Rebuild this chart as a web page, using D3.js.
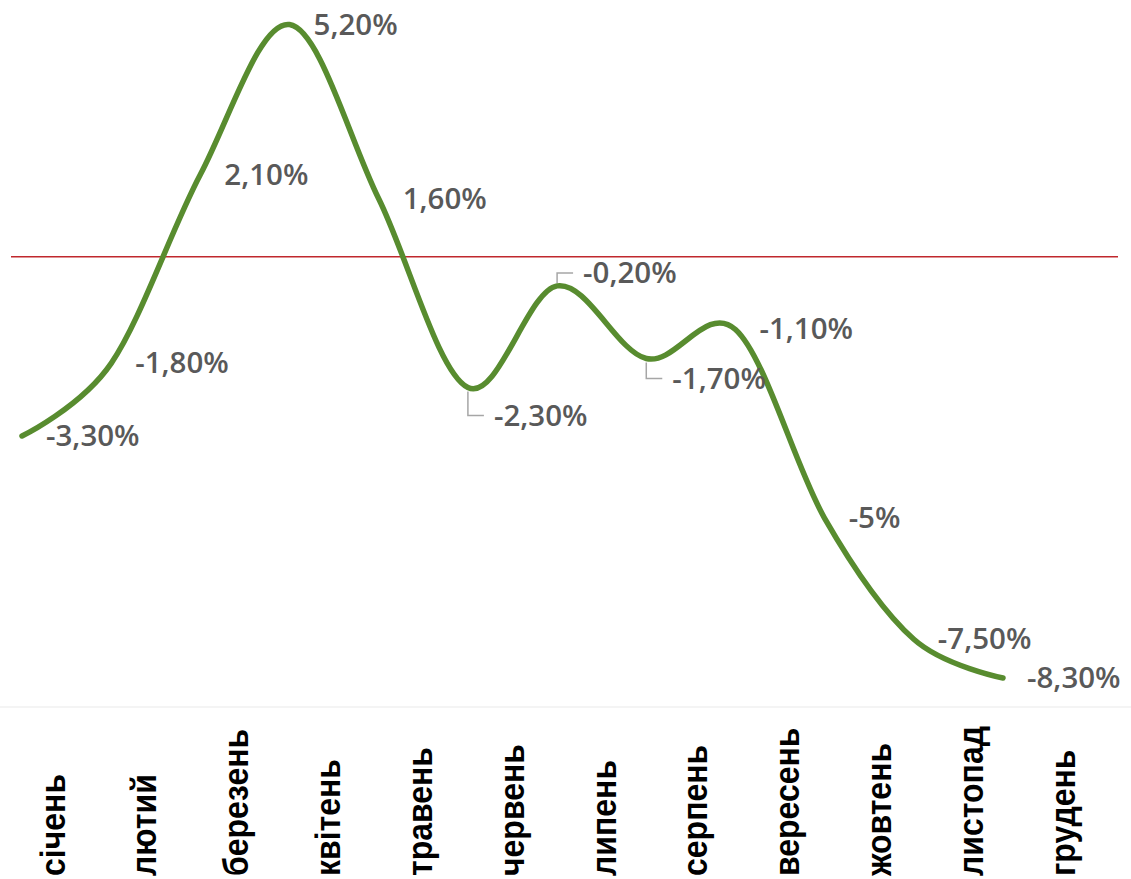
<!DOCTYPE html>
<html>
<head>
<meta charset="utf-8">
<script src="https://cdn.jsdelivr.net/npm/d3@7"></script>
<style>
  html, body { margin: 0; padding: 0; background: #fff; }
  svg { display: block; }
</style>
</head>
<body>
<svg width="1131" height="879"></svg>
<script>
// months and values (%)
var months = ["січень", "лютий", "березень", "квітень", "травень", "червень",
              "липень", "серпень", "вересень", "жовтень", "листопад", "грудень"];
var values = [-3.3, -1.8, 2.1, 5.2, 1.6, -2.3, -0.2, -1.7, -1.1, -5, -7.5, -8.3];
var refValue = 0.4;

var svg = d3.select("svg");
var width = 1131, height = 879;

var x = d3.scalePoint().domain(months).range([22, 1003]);
var xLabel = d3.scalePoint().domain(months).range([52, 1062]);
var y = d3.scaleLinear().domain([-8.3, 5.2]).range([678, 24.5]);

// faint separator above the month names
svg.append("line")
  .attr("x1", 0).attr("x2", width)
  .attr("y1", 707).attr("y2", 707)
  .style("stroke", "#f0f0f0")
  .style("stroke-width", 1.5);

// red reference line
svg.append("line")
  .attr("x1", 11).attr("x2", 1118)
  .attr("y1", y(refValue)).attr("y2", y(refValue))
  .style("stroke", "#c0282d")
  .style("stroke-width", 1.5);

var pts = months.map(function(m, i) { return {month: m, value: values[i]}; });

var line = d3.line()
  .x(function(d) { return x(d.month); })
  .y(function(d) { return y(d.value); })
  .curve(d3.curveCardinal.tension(0));

svg.append("path")
  .datum(pts)
  .attr("d", line)
  .style("fill", "none")
  .style("stroke", "#588c2f")
  .style("stroke-width", 5.5)
  .style("stroke-linecap", "round");

var fmt = function(v) {
  if (Number.isInteger(v)) return v + "%";
  return v.toFixed(2).replace(".", ",") + "%";
};

// labels moved off the point get a leader line (shift of label middle from point)
var moved = {"червень": 28, "липень": -13, "серпень": 20};

var labels = svg.append("g");
pts.forEach(function(d) {
  var px = x(d.month), py = y(d.value);
  var shift = moved[d.month] || 0;
  var lx = px + 24 + (shift ? 2 : 0);
  var my = py + shift;
  if (shift) {
    var sy = shift > 0 ? py + 4 : py - 3;
    labels.append("path")
      .attr("d", "M" + px + "," + sy + "V" + my + "H" + (lx - 10))
      .style("fill", "none")
      .style("stroke", "#a6a6a6")
      .style("stroke-width", 1.5);
  }
  labels.append("text")
    .attr("x", lx)
    .attr("y", my + 10)
    .style("font-family", "'Open Sans', sans-serif")
    .style("font-weight", 600)
    .style("font-size", "29.5px")
    .style("fill", "#595959")
    .text(fmt(d.value));
});

// month names, rotated
svg.append("g").selectAll("text")
  .data(months)
  .enter()
  .append("text")
  .attr("transform", function(d) { return "translate(" + xLabel(d) + ",876) rotate(-90) scale(1,1.12)"; })
  .attr("dominant-baseline", "central")
  .style("font-family", "'Liberation Sans', Arial, sans-serif")
  .style("font-weight", "bold")
  .style("font-size", "32px")
  .style("fill", "#000")
  .text(function(d) { return d; });
</script>
</body>
</html>
